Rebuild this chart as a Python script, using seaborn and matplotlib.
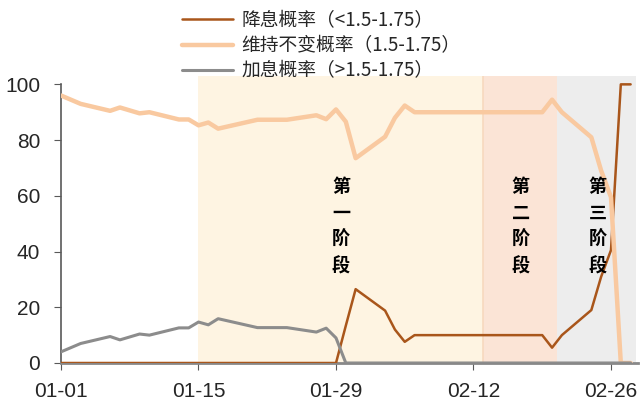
import pandas as pd
import matplotlib
matplotlib.use('Agg')
import matplotlib.pyplot as plt
import matplotlib.dates as mdates
import seaborn as sns

# FedWatch probabilities for the March meeting (vertices)
dates = ['2020-01-01', '2020-01-03', '2020-01-06', '2020-01-07', '2020-01-09',
         '2020-01-10', '2020-01-13', '2020-01-14', '2020-01-15', '2020-01-16',
         '2020-01-17', '2020-01-21', '2020-01-24', '2020-01-27', '2020-01-28',
         '2020-01-29', '2020-01-30', '2020-01-31', '2020-02-03', '2020-02-04',
         '2020-02-05', '2020-02-06', '2020-02-07', '2020-02-10', '2020-02-11',
         '2020-02-12', '2020-02-13', '2020-02-14', '2020-02-18', '2020-02-19',
         '2020-02-20', '2020-02-21', '2020-02-24', '2020-02-25', '2020-02-26',
         '2020-02-27', '2020-02-28']
cut = [0, 0, 0, 0, 0,
       0, 0, 0, 0, 0,
       0, 0, 0, 0, 0,
       0, 13.4, 26.5, 18.8, 12.0,
       7.6, 10, 10, 10, 10,
       10, 10, 10, 10, 10,
       5.5, 10, 19.0, 31.0, 40.5,
       100, 100]
hold = [96.0, 93.0, 90.5, 91.7, 89.6,
        90.0, 87.4, 87.4, 85.3, 86.3,
        84.1, 87.3, 87.3, 88.9, 87.5,
        91.0, 86.6, 73.5, 81.2, 88.0,
        92.4, 90, 90, 90, 90,
        90, 90, 90, 90, 90,
        94.5, 90, 81.0, 69.0, 59.5,
        0, 0]
hike = [4.0, 7.0, 9.5, 8.3, 10.4,
        10.0, 12.6, 12.6, 14.7, 13.7,
        15.9, 12.7, 12.7, 11.1, 12.5,
        9.0, 0, 0, 0, 0,
        0, 0, 0, 0, 0,
        0, 0, 0, 0, 0,
        0, 0, 0, 0, 0,
        0, 0]

series_names = ['降息概率（<1.5-1.75）', '维持不变概率（1.5-1.75）', '加息概率（>1.5-1.75）']
series_colors = ['#A9561B', '#F9C9A0', '#8C8C8C']
series_widths = [1.8, 3.2, 2.2]

phase_names = ['第\n一\n阶\n段', '第\n二\n阶\n段', '第\n三\n阶\n段']
phase_start = ['2020-01-15', '2020-02-13', '2020-02-20 12:00']
phase_end = ['2020-02-13', '2020-02-20 12:00', '2020-02-28 14:00']
phase_colors = ['#FEF4E2', '#FBE4D6', '#EDEDED']
phase_label_x = ['2020-01-29 12:00', '2020-02-16 19:00', '2020-02-24 15:00']
phase_label_y = [49, 49, 49]

tick_dates = ['2020-01-01', '2020-01-15', '2020-01-29', '2020-02-12', '2020-02-26']

df = pd.DataFrame({'date': pd.to_datetime(dates),
                   series_names[0]: cut,
                   series_names[1]: hold,
                   series_names[2]: hike})
long_df = df.melt(id_vars='date', var_name='series', value_name='prob')

sns.set_style('ticks')
plt.rcParams['font.family'] = ['Liberation Sans', 'Noto Sans CJK SC']

fig = plt.figure(figsize=(6.41, 4.01), dpi=100)
ax = fig.add_axes([61 / 641, 1 - 363 / 401, (638 - 61) / 641, (363 - 76) / 401])

# shaded phases
for s, e, c in zip(phase_start, phase_end, phase_colors):
    ax.axvspan(pd.Timestamp(s), pd.Timestamp(e), color=c, lw=0, zorder=0)
# thin edge between phase 1 and 2
ax.axvline(pd.Timestamp(phase_start[1]), color='#F7D9BF', lw=1.2, zorder=0.5)

for name, col, lw in zip(series_names, series_colors, series_widths):
    sns.lineplot(data=long_df[long_df['series'] == name], x='date', y='prob',
                 color=col, linewidth=lw, label=name, ax=ax, zorder=3)

for txt, lx, ly in zip(phase_names, phase_label_x, phase_label_y):
    ax.text(pd.Timestamp(lx), ly, txt, ha='center', va='center',
            fontsize=13, fontweight='bold', family=['Noto Sans CJK SC'],
            linespacing=1.5, color='black', zorder=4)

ax.set_xlim(pd.Timestamp('2020-01-01'), pd.Timestamp('2020-02-28 18:00'))
ax.set_ylim(0, 103)
ax.set_yticks([0, 20, 40, 60, 80, 100])
ax.set_xticks(pd.to_datetime(tick_dates))
ax.xaxis.set_major_formatter(mdates.DateFormatter('%m-%d'))
ax.set_xlabel('')
ax.set_ylabel('')

ax.spines['top'].set_visible(False)
ax.spines['right'].set_visible(False)
ax.spines['left'].set_bounds(0, 100)
ax.spines['left'].set_color('#595959')
ax.spines['left'].set_linewidth(1.2)
ax.spines['bottom'].set_color('#888888')
ax.spines['bottom'].set_linewidth(2)
ax.tick_params(axis='both', labelsize=15, length=5, color='#595959', direction='out')
ax.tick_params(axis='x', pad=9)
ax.tick_params(axis='y', pad=10)

handles, labels = ax.get_legend_handles_labels()
ax.get_legend().remove()
fig.legend(handles, labels, loc='upper left', bbox_to_anchor=(182 / 641, 1 - 10 / 401),
           frameon=False, prop={'family': ['Noto Sans CJK SC'], 'size': 13.5},
           handlelength=2.7, handletextpad=0.45, labelspacing=0.22, borderpad=0,
           borderaxespad=0)

fig.savefig('out.png', dpi=100)
